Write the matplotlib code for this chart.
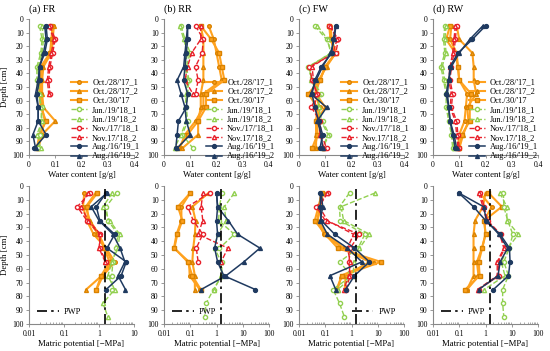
import numpy as np
import matplotlib.pyplot as plt
plt.rcParams.update({'font.family': 'Liberation Serif', 'font.size': 6})

nan = np.nan
depth = [5, 15, 25, 35, 45, 55, 65, 75, 85, 95]
labels = ["Oct./28/'17_1", "Oct./28/'17_2", "Oct./30/'17", "Jun./19/'18_1", "Jun./19/'18_2",
          "Nov./17/'18_1", "Nov.17/'18_2", "Aug./16/'19_1", "Aug./16/'19_2"]
titles = ['(a) FR', '(b) RR', '(c) FW', '(d) RW']
pwp = 1.5  # permanent wilting point [-MPa]

# water content [g/g], one row per date, depths 5..95 cm
wc_fr = [[0.090, 0.085, 0.080, 0.050, 0.045, 0.045, 0.050, 0.060, 0.045, 0.030],
         [0.095, 0.090, 0.085, 0.055, 0.050, 0.050, 0.055, 0.100, 0.050, 0.035],
         [0.085, 0.095, 0.080, 0.045, 0.040, 0.040, 0.045, 0.065, 0.040, 0.030],
         [0.040, 0.050, 0.045, 0.030, 0.030, 0.035, 0.050, 0.045, 0.040, 0.035],
         [0.050, 0.055, 0.050, 0.035, 0.035, 0.040, 0.045, 0.050, 0.030, 0.045],
         [0.080, 0.100, 0.090, 0.080, 0.075, 0.080, nan, nan, nan, nan],
         [0.075, 0.095, 0.085, 0.075, 0.070, 0.075, nan, nan, nan, nan],
         [0.065, 0.070, 0.060, 0.040, 0.040, 0.030, 0.035, 0.035, 0.065, 0.020],
         [0.060, 0.065, 0.055, 0.040, 0.035, 0.025, 0.035, 0.035, 0.015, 0.025]]
wc_rr = [[0.170, 0.190, 0.200, 0.210, 0.220, 0.150, 0.150, 0.120, 0.080, 0.060],
         [0.140, 0.150, 0.150, 0.150, 0.150, 0.140, 0.140, 0.130, 0.130, 0.070],
         [0.140, 0.180, 0.210, 0.220, 0.230, 0.160, 0.160, 0.130, 0.090, 0.055],
         [0.065, 0.080, 0.100, 0.085, 0.095, 0.090, 0.085, 0.090, 0.070, 0.110],
         [0.060, 0.075, 0.090, 0.080, 0.090, 0.085, 0.080, 0.085, 0.065, 0.040],
         [0.120, 0.150, 0.145, 0.120, 0.130, 0.120, nan, nan, nan, nan],
         [0.140, 0.140, 0.105, 0.090, 0.080, 0.110, nan, nan, nan, nan],
         [0.090, 0.090, 0.085, 0.080, 0.075, 0.090, 0.085, 0.055, 0.050, 0.045],
         [0.090, 0.085, 0.080, 0.075, 0.050, 0.065, 0.080, 0.085, 0.100, 0.050]]
wc_fw = [[0.120, 0.120, 0.140, 0.100, 0.080, 0.060, 0.080, 0.070, 0.070, 0.060],
         [0.120, 0.125, 0.140, 0.105, 0.075, 0.065, 0.100, 0.065, 0.065, 0.065],
         [0.115, 0.120, 0.140, 0.100, 0.080, 0.035, 0.070, 0.065, 0.070, 0.050],
         [0.060, 0.105, 0.125, 0.035, 0.050, 0.085, 0.070, 0.090, 0.115, 0.090],
         [0.070, 0.110, 0.120, 0.040, 0.045, 0.075, 0.075, 0.085, 0.110, 0.090],
         [0.115, 0.150, 0.140, 0.040, 0.050, 0.070, 0.047, 0.080, 0.085, 0.105],
         [0.120, 0.145, 0.130, 0.050, 0.055, 0.065, 0.060, 0.075, 0.080, 0.095],
         [0.140, 0.130, 0.125, 0.085, 0.060, 0.050, 0.060, 0.075, 0.090, 0.080],
         [0.140, 0.135, 0.120, 0.090, 0.065, 0.045, 0.105, 0.070, 0.085, 0.090]]
wc_rw = [[0.070, 0.065, 0.090, 0.095, 0.100, 0.130, 0.125, 0.120, 0.100, 0.095],
         [0.090, 0.100, 0.150, 0.155, 0.155, 0.165, 0.130, 0.135, 0.115, 0.100],
         [0.065, 0.050, 0.085, 0.095, 0.100, 0.145, 0.140, 0.140, 0.110, 0.100],
         [0.045, 0.040, 0.045, 0.030, 0.040, 0.050, 0.050, 0.060, 0.070, 0.075],
         [0.050, 0.045, 0.050, 0.035, 0.045, 0.055, 0.055, 0.065, 0.075, 0.080],
         [0.090, 0.085, 0.080, 0.070, 0.065, 0.075, 0.070, 0.090, 0.095, 0.100],
         [0.085, 0.080, 0.075, 0.065, 0.060, 0.070, 0.065, 0.085, 0.090, 0.095],
         [0.200, 0.150, 0.095, 0.065, 0.060, 0.050, 0.060, 0.065, 0.075, 0.085],
         [0.190, 0.140, 0.100, 0.070, 0.060, 0.055, 0.060, 0.065, 0.080, 0.090]]

# matric potential [-MPa]
mp_fr = [[0.38, 0.35, 0.45, 0.70, 1.6, 2.8, 1.3, 0.84, nan, nan],
         [0.80, 0.42, 0.55, 1.0, 1.5, 2.4, 1.2, 0.43, nan, nan],
         [0.90, 0.45, 0.50, 0.95, 1.4, 2.0, 1.15, 0.84, nan, nan],
         [3.2, 1.6, 1.8, 3.5, 3.0, 2.5, 2.3, 2.4, nan, nan],
         [2.4, 1.3, 2.0, 3.9, 3.5, 2.3, 1.8, 2.8, 1.3, 1.8],
         [0.55, 0.24, 0.45, 1.05, 1.05, 1.6, nan, nan, nan, nan],
         [0.48, 0.30, 0.50, 1.1, 1.0, 1.5, nan, nan, nan, nan],
         [1.6, 0.84, 1.05, 2.8, 1.7, 6.0, 4.3, 1.6, nan, nan],
         [1.7, 0.60, 1.0, 2.5, 4.0, 5.5, 3.5, 5.7, nan, nan]]
mp_rr = [[0.10, 0.046, 0.046, 0.030, 0.024, 0.09, 0.095, 0.23, nan, nan],
         [0.50, 0.12, 0.16, 0.15, 0.13, 0.12, 0.15, 0.15, nan, nan],
         [0.10, 0.034, 0.050, 0.032, 0.025, 0.08, 0.12, 0.25, nan, nan],
         [1.6, 1.3, 1.2, 4.8, 1.3, 1.6, 1.6, 0.77, 0.40, 0.35],
         [4.8, 2.0, 2.3, 1.1, 0.85, 1.5, 1.5, 0.80, nan, nan],
         [0.55, 0.08, 0.13, 0.30, 0.17, 0.20, nan, nan, nan, nan],
         [0.30, 0.26, 0.30, 0.20, 2.7, 1.5, nan, nan, nan, nan],
         [1.0, 1.1, 1.0, 1.1, 0.85, 1.1, 1.9, 30.0, nan, nan],
         [1.0, 1.1, 2.8, 6.4, 45.0, 11.0, 2.3, 0.26, nan, nan]]
mp_fw = [[0.08, 0.07, 0.05, 0.09, 0.45, 4.8, 0.60, 0.55, nan, nan],
         [0.07, 0.06, 0.05, 0.12, 0.50, 7.0, 0.40, 0.30, nan, nan],
         [0.075, 0.055, 0.04, 0.10, 0.30, 13.0, 0.45, 0.26, nan, nan],
         [0.84, 0.35, 0.37, 3.2, 1.8, 0.35, 1.0, 0.20, 0.35, 0.54],
         [8.0, 0.40, 0.50, 4.8, 2.0, 1.2, 1.2, 0.30, nan, nan],
         [0.13, 0.046, 0.10, 2.0, 0.9, 0.8, 0.9, 0.60, nan, nan],
         [0.12, 0.06, 0.12, 1.2, 0.7, 0.9, 0.8, 0.50, nan, nan],
         [0.065, 0.065, 0.07, 0.23, 1.3, 4.8, 1.3, 0.60, nan, nan],
         [0.07, 0.08, 0.065, 0.12, 0.7, 2.5, 0.15, 0.25, nan, nan]]
mp_rw = [[0.60, 1.7, 0.90, 1.0, 0.73, 0.47, 0.54, 0.20, nan, nan],
         [1.0, 0.80, 0.40, 0.35, 0.35, 0.35, 0.35, 0.20, nan, nan],
         [1.3, 4.2, 0.90, 1.0, 0.75, 0.55, 0.60, 0.17, nan, nan],
         [4.8, 5.0, 7.0, 11.0, 8.0, 5.0, 7.5, 4.5, 4.5, 5.0],
         [3.5, 6.5, 6.5, 18.0, 7.0, 4.0, 5.5, 0.90, nan, nan],
         [0.63, 0.90, 1.2, 3.8, 5.5, 3.0, 3.2, 0.55, nan, nan],
         [0.55, 0.80, 1.1, 3.5, 5.0, 2.8, 2.8, 0.50, nan, nan],
         [0.095, 0.35, 1.0, 3.6, 8.2, 8.6, 7.5, 2.0, nan, nan],
         [0.095, 0.84, 1.1, 3.2, 7.0, 3.6, 3.0, 0.55, nan, nan]]

wc_all = [wc_fr, wc_rr, wc_fw, wc_rw]
mp_all = [mp_fr, mp_rr, mp_fw, mp_rw]

orange = '#FFA21F'
green = '#92D050'
red = '#E8202A'
navy = '#1F3A60'
styles = [dict(color=orange, ls='-', lw=1.5, marker='o', ms=2.6, mec='#D98200'),
          dict(color=orange, ls='-', lw=1.5, marker='^', ms=2.8, mec='#D98200'),
          dict(color=orange, ls='-', lw=1.5, marker='s', ms=2.8, mec='#D98200'),
          dict(color=green, ls='--', lw=1.0, marker='o', ms=3.0, mfc='white'),
          dict(color=green, ls='--', lw=1.0, marker='^', ms=3.0, mfc='white'),
          dict(color=red, ls='--', lw=1.0, marker='o', ms=3.0, mfc='white'),
          dict(color=red, ls='--', lw=1.0, marker='^', ms=3.0, mfc='white'),
          dict(color=navy, ls='-', lw=1.1, marker='o', ms=2.8),
          dict(color=navy, ls='-', lw=1.1, marker='^', ms=2.8)]

W, H = 550, 351
fig = plt.figure(figsize=(W/100, H/100), dpi=100)
lefts = [29, 164, 299, 433]

def style_axes(ax):
    for s in ['top', 'right']:
        ax.spines[s].set_visible(False)
    for s in ['left', 'bottom']:
        ax.spines[s].set_color('#888888')
        ax.spines[s].set_linewidth(0.8)
    ax.set_ylim(100, 0)
    ax.set_yticks(range(0, 101, 10))
    ax.tick_params(labelsize=5.5, length=2, width=0.6, color='#888888', pad=2)

for i in range(4):
    ax = fig.add_axes([lefts[i]/W, (H-155)/H, 105/W, 136/H])
    style_axes(ax)
    for vals, lab, st in zip(wc_all[i], labels, styles):
        ax.plot(vals, depth, label=lab, **st)
    ax.set_xlim(0, 0.4)
    ax.set_xticks([0, 0.1, 0.2, 0.3, 0.4])
    ax.set_xticklabels(['0', '0.1', '0.2', '0.3', '0.4'])
    ax.set_xlabel('Water content [g/g]', fontsize=6.3, labelpad=2)
    ax.set_title(titles[i], loc='left', fontsize=7.3, pad=5)
    if i == 0:
        ax.set_ylabel('Depth [cm]', fontsize=6.3, labelpad=2)
    bx = 1.0 if i == 3 else 1.06
    ax.legend(loc='lower right', bbox_to_anchor=(bx, -0.04), frameon=False,
              fontsize=6, borderpad=0, handlelength=1.9, handletextpad=0.6,
              labelspacing=0.15, borderaxespad=0)

    ax2 = fig.add_axes([lefts[i]/W, (H-324)/H, 105/W, 138/H])
    style_axes(ax2)
    for vals, st in zip(mp_all[i], styles):
        ax2.plot(vals, depth, **st)
    ax2.axvline(pwp, color='black', lw=1.2, dashes=(6, 2.5, 1.5, 2.5), label='PWP')
    ax2.set_xscale('log')
    if i == 0:
        ax2.set_xlim(0.01, 10)
        ticks = [0.01, 0.1, 1, 10]
    else:
        ax2.set_xlim(0.01, 100)
        ticks = [0.01, 0.1, 1, 10, 100]
    ax2.set_xticks(ticks)
    ax2.set_xticklabels(['%g' % t for t in ticks])
    ax2.tick_params(axis='x', which='minor', direction='in', length=1.5, width=0.5, color='#888888')
    ax2.set_xlabel('Matric potential [\u2212MPa]', fontsize=6.3, labelpad=2)
    if i == 0:
        ax2.set_ylabel('Depth [cm]', fontsize=6.3, labelpad=2)
    ax2.legend(loc='lower right' if i == 2 else 'lower left', frameon=False, fontsize=6,
               handlelength=2.6, handletextpad=0.6, borderaxespad=0.6)

plt.savefig('out.png', dpi=100)
plt.close(fig)
